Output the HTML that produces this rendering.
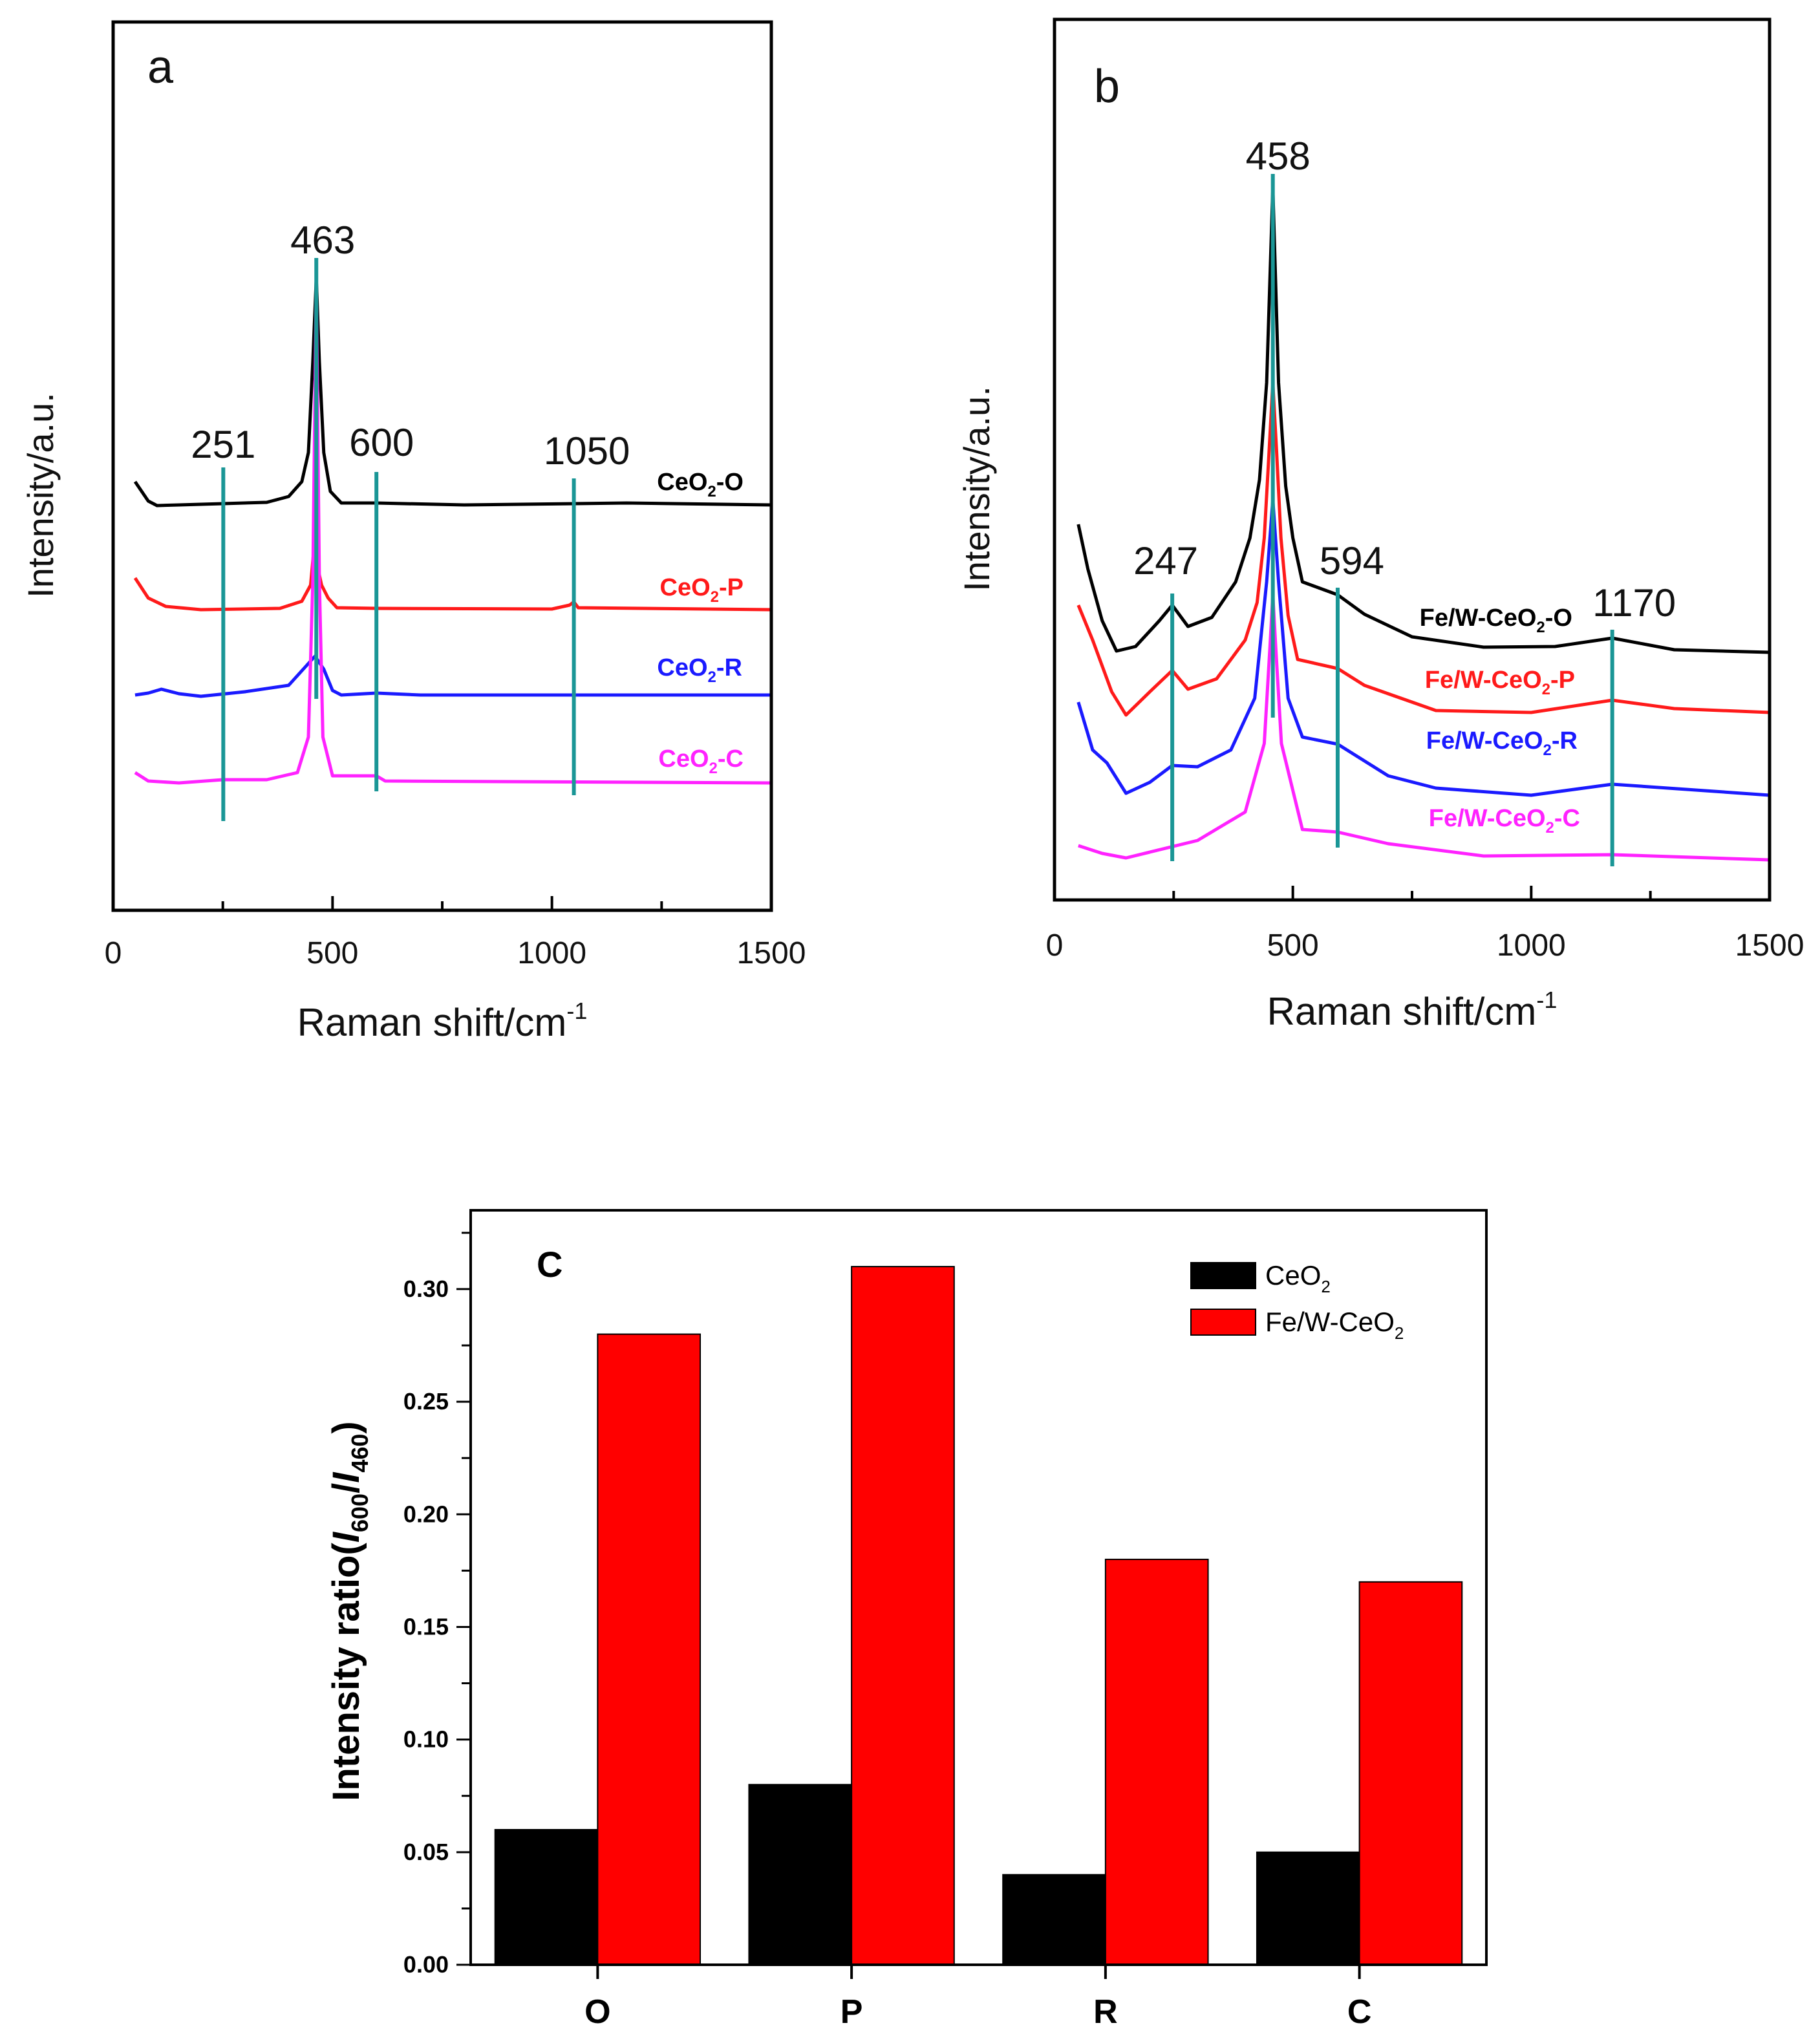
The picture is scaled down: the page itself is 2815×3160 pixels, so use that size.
<!DOCTYPE html>
<html><head><meta charset="utf-8"><style>
html,body{margin:0;padding:0;background:#fff;}
svg{display:block;font-family:"Liberation Sans",sans-serif;}
</style></head>
<body>
<svg id="fig" width="2815" height="3160" viewBox="0 0 2815 3160" xmlns="http://www.w3.org/2000/svg">
<rect width="2815" height="3160" fill="#fff"/>
<g id="pa"></g>
<g id="pb"></g>
<g id="pc"></g>
</svg>
<script>
// ---------- Panel a data ----------
const aO_x=[50,80,100,150,250,350,400,430,445,455,463,470,480,495,520,600,800,1170,1500];
const aO_y=[663,633,626,627,629,631,640,663,708,848,978,848,708,648,630,630,627,630,627];
const aP_x=[50,80,120,200,380,430,450,460,467,475,490,510,600,1000,1040,1050,1060,1500];
const aP_y=[514,483,470,465,467,478,503,577,528,503,483,468,467,466,472,477,468,465];
const aR_x=[50,80,110,150,200,300,400,440,460,480,500,520,600,700,1500];
const aR_y=[333,336,342,335,331,338,348,378,393,373,340,333,336,333,333];
const aC_x=[50,80,150,250,350,420,445,455,463,470,478,500,600,620,1500];
const aC_y=[213,200,197,202,202,213,268,508,968,508,268,208,208,200,197];
const aMarks=[251,463,600,1050];
const aMarkTop=[685,1009,678,668];
const aMarkBot=[138,327,184,178];
// ---------- Panel b data ----------
const bO_x=[50,70,100,130,170,220,247,280,330,380,410,430,445,458,470,485,500,520,594,650,750,900,1050,1170,1300,1500];
const bO_y=[581,512,432,385,392,432,456,423,437,492,560,650,800,1102,800,640,560,492,472,442,407,391,392,405,387,383];
const bP_x=[50,80,120,150,200,247,280,340,400,425,440,450,458,466,475,490,510,594,650,800,1000,1170,1300,1500];
const bP_y=[456,402,322,286,322,355,326,342,402,460,560,692,800,692,560,440,372,358,332,293,290,309,296,290];
const bR_x=[50,80,110,150,200,247,300,370,420,445,458,470,490,520,594,700,800,1000,1170,1500];
const bR_y=[306,232,212,165,182,208,206,232,312,492,619,492,312,252,241,192,173,162,179,162];
const bC_x=[50,100,150,300,400,440,452,458,464,476,520,594,700,900,1170,1500];
const bC_y=[84,72,65,92,136,242,392,472,392,242,109,105,87,68,70,62];
const bMarks=[247,458,594,1170];
const bMarkTop=[474,1123,483,418];
const bMarkBot=[60,282,81,52];
// ---------- Panel c data ----------
const cats=["O","P","R","C"];
const ceo2=[0.06,0.08,0.04,0.05];
const few=[0.28,0.31,0.18,0.17];
const cTicks=["0.00","0.05","0.10","0.15","0.20","0.25","0.30"];
const xTickLabels=["0","500","1000","1500"];

const NS="http://www.w3.org/2000/svg";
function mk(tag,attrs,parent,text){const e=document.createElementNS(NS,tag);for(const k in attrs)e.setAttribute(k,attrs[k]);if(text!==undefined)e.textContent=text;parent.appendChild(e);return e;}
const TEAL="#1a9696";

function spectrumPanel(g,L,R,T,B,series,marks,mTop,mBot,markLabels,sampleLabels,letter,letterPos,ytitlePos,tickY,titleY){
  const sx=v=>L+v/1500*(R-L);
  const sy=v=>B-v;
  series.forEach(s=>{
    const pts=s.x.map((xv,i)=>sx(xv)+","+sy(s.y[i])).join(" ");
    const p=mk("polyline",{points:pts,fill:"none",stroke:s.c,"stroke-width":5,"stroke-linejoin":"round"},g);
    
    
  });
  marks.forEach((m,i)=>{
    const l=mk("line",{x1:sx(m),x2:sx(m),y1:sy(mTop[i]),y2:sy(mBot[i]),stroke:TEAL,"stroke-width":6},g);
    
    
    const lb=markLabels[i];
    const t=mk("text",{x:sx(m)+lb.dx,y:lb.y,"font-size":60,"text-anchor":"middle",fill:"#111"},g,String(m));
    
    
  });
  sampleLabels.forEach(s=>{
    const t=mk("text",{x:s.x,y:s.y,"font-size":38,"font-weight":"bold",fill:s.c,"text-anchor":"end"},g);
    
    
    mk("tspan",{},t,s.a);mk("tspan",{"font-size":24,dy:10},t,"2");mk("tspan",{dy:-10},t,s.b);
  });
  const box=mk("rect",{x:L,y:T,width:R-L,height:B-T,fill:"none",stroke:"#000","stroke-width":5},g);
  
  
  for(let v=0;v<=1500;v+=250){
    const major=v%500===0;
    mk("line",{x1:sx(v),x2:sx(v),y1:B,y2:B-(major?22:14),stroke:"#000","stroke-width":4},g);
    if(major){const t=mk("text",{x:sx(v),y:tickY,"font-size":48,"text-anchor":"middle",fill:"#111"},g,xTickLabels[v/500]);
      
      }
  }
  const xt=mk("text",{x:(L+R)/2,y:titleY,"font-size":60,"text-anchor":"middle",fill:"#111"},g);
  
  
  mk("tspan",{},xt,"Raman shift/cm");mk("tspan",{"font-size":36,dy:-26},xt,"-1");
  const yt=mk("text",{x:ytitlePos[0],y:ytitlePos[1],"font-size":56,"text-anchor":"middle",fill:"#111",transform:`rotate(-90 ${ytitlePos[0]} ${ytitlePos[1]})`},g,"Intensity/a.u.");
  
  
  const lt=mk("text",{x:letterPos[0],y:letterPos[1],"font-size":72,fill:"#111"},g,letter);
  
  
}

spectrumPanel(document.getElementById('pa'),175,1193,34,1408,
 [{x:aO_x,y:aO_y,c:"#000",n:"ceo2-o-trace"},{x:aP_x,y:aP_y,c:"#ff1a1a",n:"ceo2-p-trace"},{x:aR_x,y:aR_y,c:"#1a1aff",n:"ceo2-r-trace"},{x:aC_x,y:aC_y,c:"#ff22ff",n:"ceo2-c-trace"}],
 aMarks,aMarkTop,aMarkBot,
 [{dx:0,y:708},{dx:10,y:392},{dx:8,y:705},{dx:20,y:718}],
 [{x:1150,y:758,c:"#000",a:"CeO",b:"-O"},{x:1150,y:921,c:"#ff1a1a",a:"CeO",b:"-P"},{x:1148,y:1045,c:"#1a1aff",a:"CeO",b:"-R"},{x:1150,y:1186,c:"#ff22ff",a:"CeO",b:"-C"}],
 "a",[228,128],[82,766],1490,1602);

spectrumPanel(document.getElementById('pb'),1631,2737,30,1392,
 [{x:bO_x,y:bO_y,c:"#000",n:"few-ceo2-o-trace"},{x:bP_x,y:bP_y,c:"#ff1a1a",n:"few-ceo2-p-trace"},{x:bR_x,y:bR_y,c:"#1a1aff",n:"few-ceo2-r-trace"},{x:bC_x,y:bC_y,c:"#ff22ff",n:"few-ceo2-c-trace"}],
 bMarks,bMarkTop,bMarkBot,
 [{dx:-10,y:888},{dx:8,y:262},{dx:22,y:888},{dx:34,y:953}],
 [{x:2432,y:968,c:"#000",a:"Fe/W-CeO",b:"-O"},{x:2436,y:1064,c:"#ff1a1a",a:"Fe/W-CeO",b:"-P"},{x:2440,y:1158,c:"#1a1aff",a:"Fe/W-CeO",b:"-R"},{x:2444,y:1278,c:"#ff22ff",a:"Fe/W-CeO",b:"-C"}],
 "b",[1692,158],[1530,756],1478,1585);

// ---------- Panel c ----------
(function(){
  const g=document.getElementById('pc');
  const L=728,R=2299,T=1872,B=3039,YMAX=0.335;
  const sy=v=>B-v/YMAX*(B-T);
  const cw=(R-L)/cats.length, bw=(R-L)*0.101;
  const NAR='"Liberation Sans Narrow","Liberation Sans",sans-serif';
  cats.forEach((c,i)=>{
    const cx=L+cw*(i+0.5);
    const b1=mk("rect",{x:cx-bw,y:sy(ceo2[i]),width:bw,height:B-sy(ceo2[i]),fill:"#000",stroke:"#000","stroke-width":2},g);
    
    
    const b2=mk("rect",{x:cx,y:sy(few[i]),width:bw,height:B-sy(few[i]),fill:"#ff0000",stroke:"#000","stroke-width":2},g);
    
    
    mk("line",{x1:cx,x2:cx,y1:B,y2:B+22,stroke:"#000","stroke-width":4},g);
    const t=mk("text",{x:cx,y:B+90,"font-size":52,"font-weight":"bold","text-anchor":"middle",fill:"#000"},g,c);
    
    
  });
  const f=mk("rect",{x:L,y:T,width:R-L,height:B-T,fill:"none",stroke:"#000","stroke-width":4},g);
  
  
  for(let k=0;k<=13;k++){
    const v=k*0.025, major=k%2===0;
    mk("line",{x1:L,x2:L-(major?22:14),y1:sy(v),y2:sy(v),stroke:"#000","stroke-width":3},g);
    if(major&&k/2<cTicks.length){const t=mk("text",{x:L-34,y:sy(v)+12,"font-size":36,"font-weight":"bold","text-anchor":"end","font-family":NAR,fill:"#000"},g,cTicks[k/2]);
      
      }
  }
  const yt=mk("text",{x:555,y:2492,"font-size":58,"font-weight":"bold","text-anchor":"middle",fill:"#000",transform:"rotate(-90 555 2492)"},g);
  
  
  mk("tspan",{},yt,"Intensity ratio(");mk("tspan",{"font-style":"italic"},yt,"I");
  mk("tspan",{"font-size":36,dy:14},yt,"600");mk("tspan",{dy:-14},yt,"/");
  mk("tspan",{"font-style":"italic"},yt,"I");mk("tspan",{"font-size":36,dy:14},yt,"460");mk("tspan",{dy:-14},yt,")");
  const lt=mk("text",{x:830,y:1975,"font-size":56,"font-weight":"bold",fill:"#000"},g,"C");
  
  
  const leg=[["CeO","#000",1953],["Fe/W-CeO","#ff0000",2025]];
  leg.forEach(l=>{
    const s=mk("rect",{x:1842,y:l[2],width:100,height:40,fill:l[1],stroke:"#000","stroke-width":2},g);
    
    
    const t=mk("text",{x:1957,y:l[2]+34,"font-size":42,fill:"#000","font-family":NAR},g);
    
    
    mk("tspan",{},t,l[0]);mk("tspan",{"font-size":26,dy:12},t,"2");
  });
})();
</script>
</body></html>
